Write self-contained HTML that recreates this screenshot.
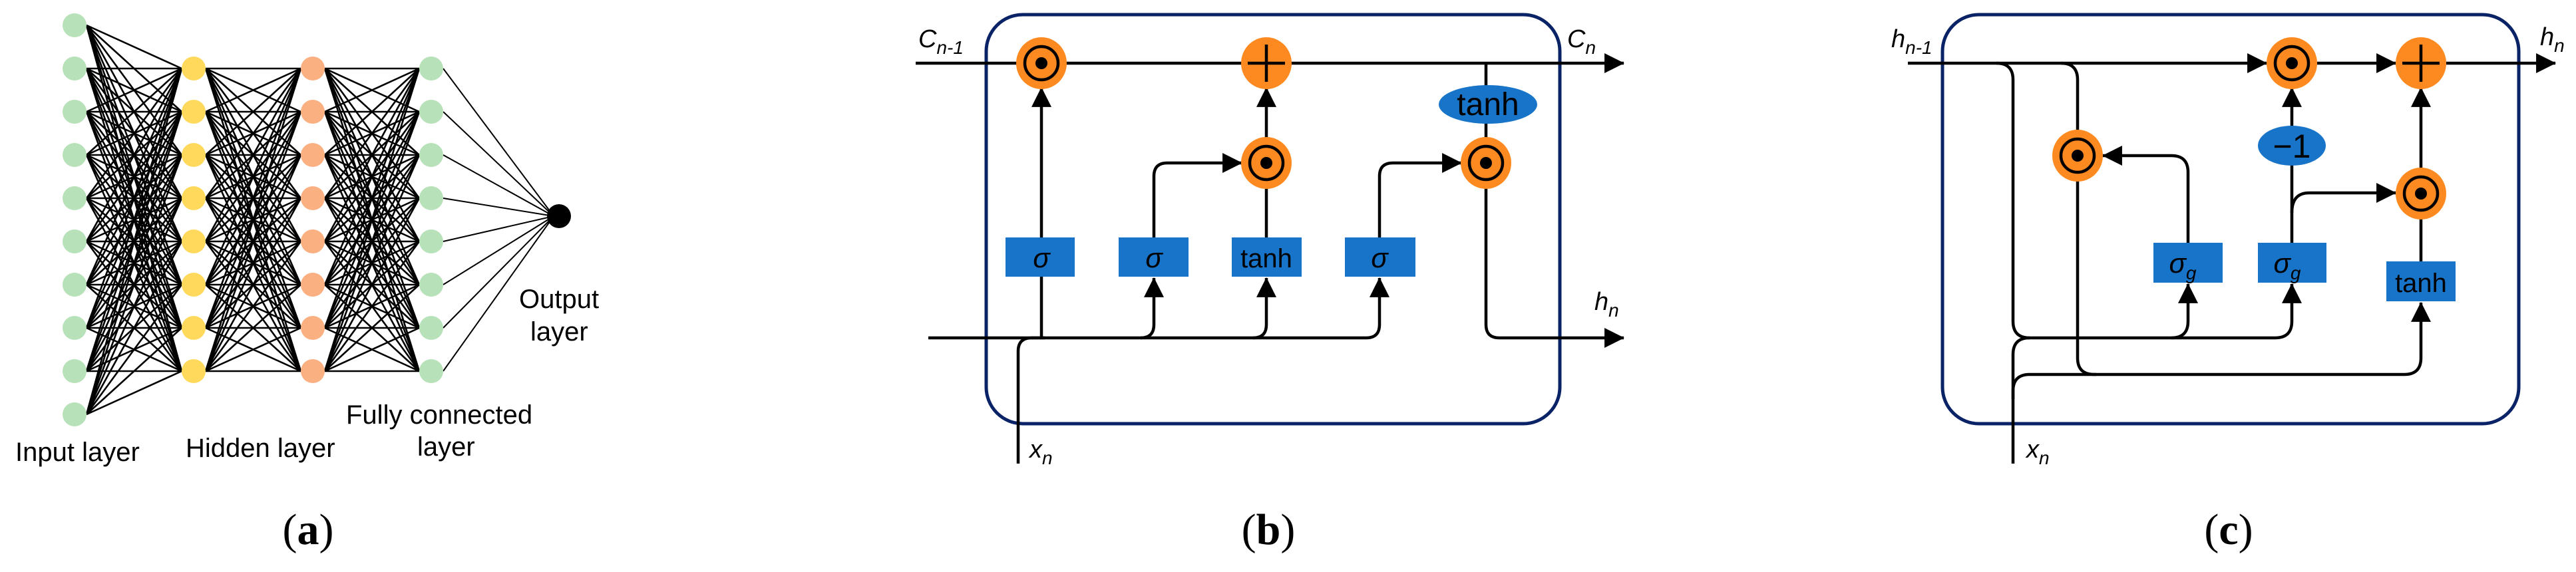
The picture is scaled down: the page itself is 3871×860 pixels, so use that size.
<!DOCTYPE html>
<html><head><meta charset="utf-8"><style>
html,body{margin:0;padding:0;background:#fff}
svg{display:block}
text{font-family:"Liberation Sans",sans-serif}
.it{font-style:italic}
</style></head><body>
<svg width="3871" height="860" viewBox="0 0 3871 860" xmlns="http://www.w3.org/2000/svg">
<defs>
<marker id="ar" markerUnits="userSpaceOnUse" markerWidth="30" markerHeight="30" viewBox="0 0 28 28" refX="27" refY="14" orient="auto">
<path d="M0 0L28 14L0 28Z" fill="#000"/></marker>
<g id="od"><ellipse cx="0" cy="0" rx="38" ry="39" fill="#fd8a21"/><circle r="25" fill="none" stroke="#000" stroke-width="4.5"/><circle r="9" fill="#000"/></g>
<g id="pl"><ellipse cx="0" cy="0" rx="38" ry="39" fill="#fd8a21"/><path d="M-28 0H28M0 -28V28" stroke="#000" stroke-width="4.5"/></g>
</defs>

<!-- Panel a -->
<g stroke="#000" stroke-width="2.6" fill="none">
<path d="M130 38L273 103 130 38 273 168 130 38 273 233 130 38 273 298 130 38 273 363 130 38 273 428 130 38 273 493 130 38 273 558
M130 103L273 103 130 103 273 168 130 103 273 233 130 103 273 298 130 103 273 363 130 103 273 428 130 103 273 493 130 103 273 558
M130 168L273 103 130 168 273 168 130 168 273 233 130 168 273 298 130 168 273 363 130 168 273 428 130 168 273 493 130 168 273 558
M130 233L273 103 130 233 273 168 130 233 273 233 130 233 273 298 130 233 273 363 130 233 273 428 130 233 273 493 130 233 273 558
M130 298L273 103 130 298 273 168 130 298 273 233 130 298 273 298 130 298 273 363 130 298 273 428 130 298 273 493 130 298 273 558
M130 363L273 103 130 363 273 168 130 363 273 233 130 363 273 298 130 363 273 363 130 363 273 428 130 363 273 493 130 363 273 558
M130 428L273 103 130 428 273 168 130 428 273 233 130 428 273 298 130 428 273 363 130 428 273 428 130 428 273 493 130 428 273 558
M130 493L273 103 130 493 273 168 130 493 273 233 130 493 273 298 130 493 273 363 130 493 273 428 130 493 273 493 130 493 273 558
M130 558L273 103 130 558 273 168 130 558 273 233 130 558 273 298 130 558 273 363 130 558 273 428 130 558 273 493 130 558 273 558
M130 623L273 103 130 623 273 168 130 623 273 233 130 623 273 298 130 623 273 363 130 623 273 428 130 623 273 493 130 623 273 558"/>
<path d="M309 103L452 103 309 103 452 168 309 103 452 233 309 103 452 298 309 103 452 363 309 103 452 428 309 103 452 493 309 103 452 558
M309 168L452 103 309 168 452 168 309 168 452 233 309 168 452 298 309 168 452 363 309 168 452 428 309 168 452 493 309 168 452 558
M309 233L452 103 309 233 452 168 309 233 452 233 309 233 452 298 309 233 452 363 309 233 452 428 309 233 452 493 309 233 452 558
M309 298L452 103 309 298 452 168 309 298 452 233 309 298 452 298 309 298 452 363 309 298 452 428 309 298 452 493 309 298 452 558
M309 363L452 103 309 363 452 168 309 363 452 233 309 363 452 298 309 363 452 363 309 363 452 428 309 363 452 493 309 363 452 558
M309 428L452 103 309 428 452 168 309 428 452 233 309 428 452 298 309 428 452 363 309 428 452 428 309 428 452 493 309 428 452 558
M309 493L452 103 309 493 452 168 309 493 452 233 309 493 452 298 309 493 452 363 309 493 452 428 309 493 452 493 309 493 452 558
M309 558L452 103 309 558 452 168 309 558 452 233 309 558 452 298 309 558 452 363 309 558 452 428 309 558 452 493 309 558 452 558"/>
<path d="M488 103L630 103 488 103 630 168 488 103 630 233 488 103 630 298 488 103 630 363 488 103 630 428 488 103 630 493 488 103 630 558
M488 168L630 103 488 168 630 168 488 168 630 233 488 168 630 298 488 168 630 363 488 168 630 428 488 168 630 493 488 168 630 558
M488 233L630 103 488 233 630 168 488 233 630 233 488 233 630 298 488 233 630 363 488 233 630 428 488 233 630 493 488 233 630 558
M488 298L630 103 488 298 630 168 488 298 630 233 488 298 630 298 488 298 630 363 488 298 630 428 488 298 630 493 488 298 630 558
M488 363L630 103 488 363 630 168 488 363 630 233 488 363 630 298 488 363 630 363 488 363 630 428 488 363 630 493 488 363 630 558
M488 428L630 103 488 428 630 168 488 428 630 233 488 428 630 298 488 428 630 363 488 428 630 428 488 428 630 493 488 428 630 558
M488 493L630 103 488 493 630 168 488 493 630 233 488 493 630 298 488 493 630 363 488 493 630 428 488 493 630 493 488 493 630 558
M488 558L630 103 488 558 630 168 488 558 630 233 488 558 630 298 488 558 630 363 488 558 630 428 488 558 630 493 488 558 630 558"/>
<path d="M666 103L832 325 666 168 832 325 666 233 832 325 666 298 832 325 666 363 832 325 666 428 832 325 666 493 832 325 666 558 832 325" stroke-width="2"/>
</g>
<g fill="#b7e1b9">
<circle cx="112" cy="38" r="18"/><circle cx="112" cy="103" r="18"/><circle cx="112" cy="168" r="18"/><circle cx="112" cy="233" r="18"/><circle cx="112" cy="298" r="18"/><circle cx="112" cy="363" r="18"/><circle cx="112" cy="428" r="18"/><circle cx="112" cy="493" r="18"/><circle cx="112" cy="558" r="18"/><circle cx="112" cy="623" r="18"/>
<circle cx="648" cy="103" r="18"/><circle cx="648" cy="168" r="18"/><circle cx="648" cy="233" r="18"/><circle cx="648" cy="298" r="18"/><circle cx="648" cy="363" r="18"/><circle cx="648" cy="428" r="18"/><circle cx="648" cy="493" r="18"/><circle cx="648" cy="558" r="18"/>
</g>
<g fill="#ffd95c">
<circle cx="291" cy="103" r="18"/><circle cx="291" cy="168" r="18"/><circle cx="291" cy="233" r="18"/><circle cx="291" cy="298" r="18"/><circle cx="291" cy="363" r="18"/><circle cx="291" cy="428" r="18"/><circle cx="291" cy="493" r="18"/><circle cx="291" cy="558" r="18"/>
</g>
<g fill="#fbb082">
<circle cx="470" cy="103" r="18"/><circle cx="470" cy="168" r="18"/><circle cx="470" cy="233" r="18"/><circle cx="470" cy="298" r="18"/><circle cx="470" cy="363" r="18"/><circle cx="470" cy="428" r="18"/><circle cx="470" cy="493" r="18"/><circle cx="470" cy="558" r="18"/>
</g>
<circle cx="840" cy="325" r="18" fill="#000"/>
<g font-size="40" fill="#000">
<text x="23" y="693">Input layer</text>
<text x="279" y="687">Hidden layer</text>
<text x="520" y="637">Fully connected</text>
<text x="627" y="685">layer</text>
<text x="780" y="463">Output</text>
<text x="797" y="512">layer</text>
</g>
<text x="463" y="818" text-anchor="middle" font-size="66" style="font-family:'Liberation Serif',serif">(<tspan font-weight="bold">a</tspan>)</text>

<!-- Panel b -->
<rect x="1482" y="22" width="862" height="615" rx="55" fill="none" stroke="#0a2266" stroke-width="5"/>
<g stroke="#000" stroke-width="4.5" fill="none">
<path d="M1376 95H2440" marker-end="url(#ar)"/>
<path d="M1395 508H2053Q2073 508 2073 488V418" marker-end="url(#ar)"/>
<path d="M1714 508Q1734 508 1734 488V418" marker-end="url(#ar)"/>
<path d="M1883 508Q1903 508 1903 488V418" marker-end="url(#ar)"/>
<path d="M1565 508V357"/>
<path d="M1565 357V132" marker-end="url(#ar)"/>
<path d="M1530 697V528Q1530 508 1550 508H1570"/>
<path d="M1734 357V265Q1734 245 1754 245H1866" marker-end="url(#ar)"/>
<path d="M1903 357V284"/>
<path d="M1903 207V132" marker-end="url(#ar)"/>
<path d="M2073 357V265Q2073 245 2093 245H2196" marker-end="url(#ar)"/>
<path d="M2233 95V207"/>
<path d="M2233 283V488Q2233 508 2253 508H2440" marker-end="url(#ar)"/>
</g>
<use href="#od" x="1565" y="95"/>
<use href="#pl" x="1903" y="95"/>
<use href="#od" x="1903" y="245"/>
<use href="#od" x="2233" y="245"/>
<ellipse cx="2236" cy="157" rx="74" ry="29" fill="#1874c8"/>
<text x="2236" y="173" text-anchor="middle" font-size="48">tanh</text>
<g fill="#1874c8">
<rect x="1511" y="357" width="104" height="59"/><rect x="1681" y="357" width="105" height="59"/><rect x="1851" y="357" width="105" height="59"/><rect x="2021" y="357" width="106" height="59"/>
</g>
<g font-size="42" text-anchor="middle">
<text x="1565" y="402" class="it">σ</text><text x="1734" y="402" class="it">σ</text><text x="1903" y="402" font-size="40">tanh</text><text x="2073" y="402" class="it">σ</text>
</g>
<g font-size="38" class="it">
<text x="1380" y="71">C<tspan font-size="28" dy="10">n-1</tspan></text>
<text x="2355" y="71">C<tspan font-size="28" dy="10">n</tspan></text>
<text x="2396" y="466">h<tspan font-size="28" dy="10">n</tspan></text>
<text x="1547" y="688">x<tspan font-size="28" dy="10">n</tspan></text>
</g>
<text x="1906" y="818" text-anchor="middle" font-size="66" style="font-family:'Liberation Serif',serif">(<tspan font-weight="bold">b</tspan>)</text>

<!-- Panel c -->
<rect x="2919" y="22" width="866" height="615" rx="55" fill="none" stroke="#0a2266" stroke-width="5"/>
<g stroke="#000" stroke-width="4.5" fill="none">
<path d="M2867 95H3406" marker-end="url(#ar)"/>
<path d="M3482 95H3600" marker-end="url(#ar)"/>
<path d="M3676 95H3840" marker-end="url(#ar)"/>
<path d="M3000 95Q3025 95 3025 120V483Q3025 508 3050 508H3419Q3444 508 3444 483V427" marker-end="url(#ar)"/>
<path d="M3263 508Q3288 508 3288 483V427" marker-end="url(#ar)"/>
<path d="M3097 95Q3122 95 3122 120V196"/>
<path d="M3122 272V538Q3122 563 3147 563H3613Q3638 563 3638 538V455" marker-end="url(#ar)"/>
<path d="M3025 697V533Q3025 508 3050 508"/>
<path d="M3025 600V588Q3025 563 3050 563H3150"/>
<path d="M3288 365V259Q3288 234 3263 234H3160" marker-end="url(#ar)"/>
<path d="M3444 365V248"/>
<path d="M3444 190V132" marker-end="url(#ar)"/>
<path d="M3444 320Q3444 290 3470 290H3600" marker-end="url(#ar)"/>
<path d="M3638 395V329"/>
<path d="M3638 253V132" marker-end="url(#ar)"/>
</g>
<use href="#od" x="3444" y="95"/>
<use href="#pl" x="3638" y="95"/>
<use href="#od" x="3122" y="234"/>
<use href="#od" x="3638" y="291"/>
<ellipse cx="3444" cy="219" rx="51" ry="30" fill="#1874c8"/>
<text x="3444" y="237" text-anchor="middle" font-size="50">−1</text>
<g fill="#1874c8">
<rect x="3236" y="365" width="104" height="60"/><rect x="3393" y="365" width="103" height="60"/><rect x="3586" y="393" width="104" height="60"/>
</g>
<text x="3280" y="410" font-size="42" text-anchor="middle" class="it">σ<tspan font-size="28" dy="10">g</tspan></text>
<text x="3437" y="410" font-size="42" text-anchor="middle" class="it">σ<tspan font-size="28" dy="10">g</tspan></text>
<text x="3638" y="439" font-size="40" text-anchor="middle">tanh</text>
<g font-size="38" class="it">
<text x="2842" y="71">h<tspan font-size="28" dy="10">n-1</tspan></text>
<text x="3817" y="68">h<tspan font-size="28" dy="10">n</tspan></text>
<text x="3045" y="688">x<tspan font-size="28" dy="10">n</tspan></text>
</g>
<text x="3349" y="818" text-anchor="middle" font-size="66" style="font-family:'Liberation Serif',serif">(<tspan font-weight="bold">c</tspan>)</text>
</svg>
</body></html>
